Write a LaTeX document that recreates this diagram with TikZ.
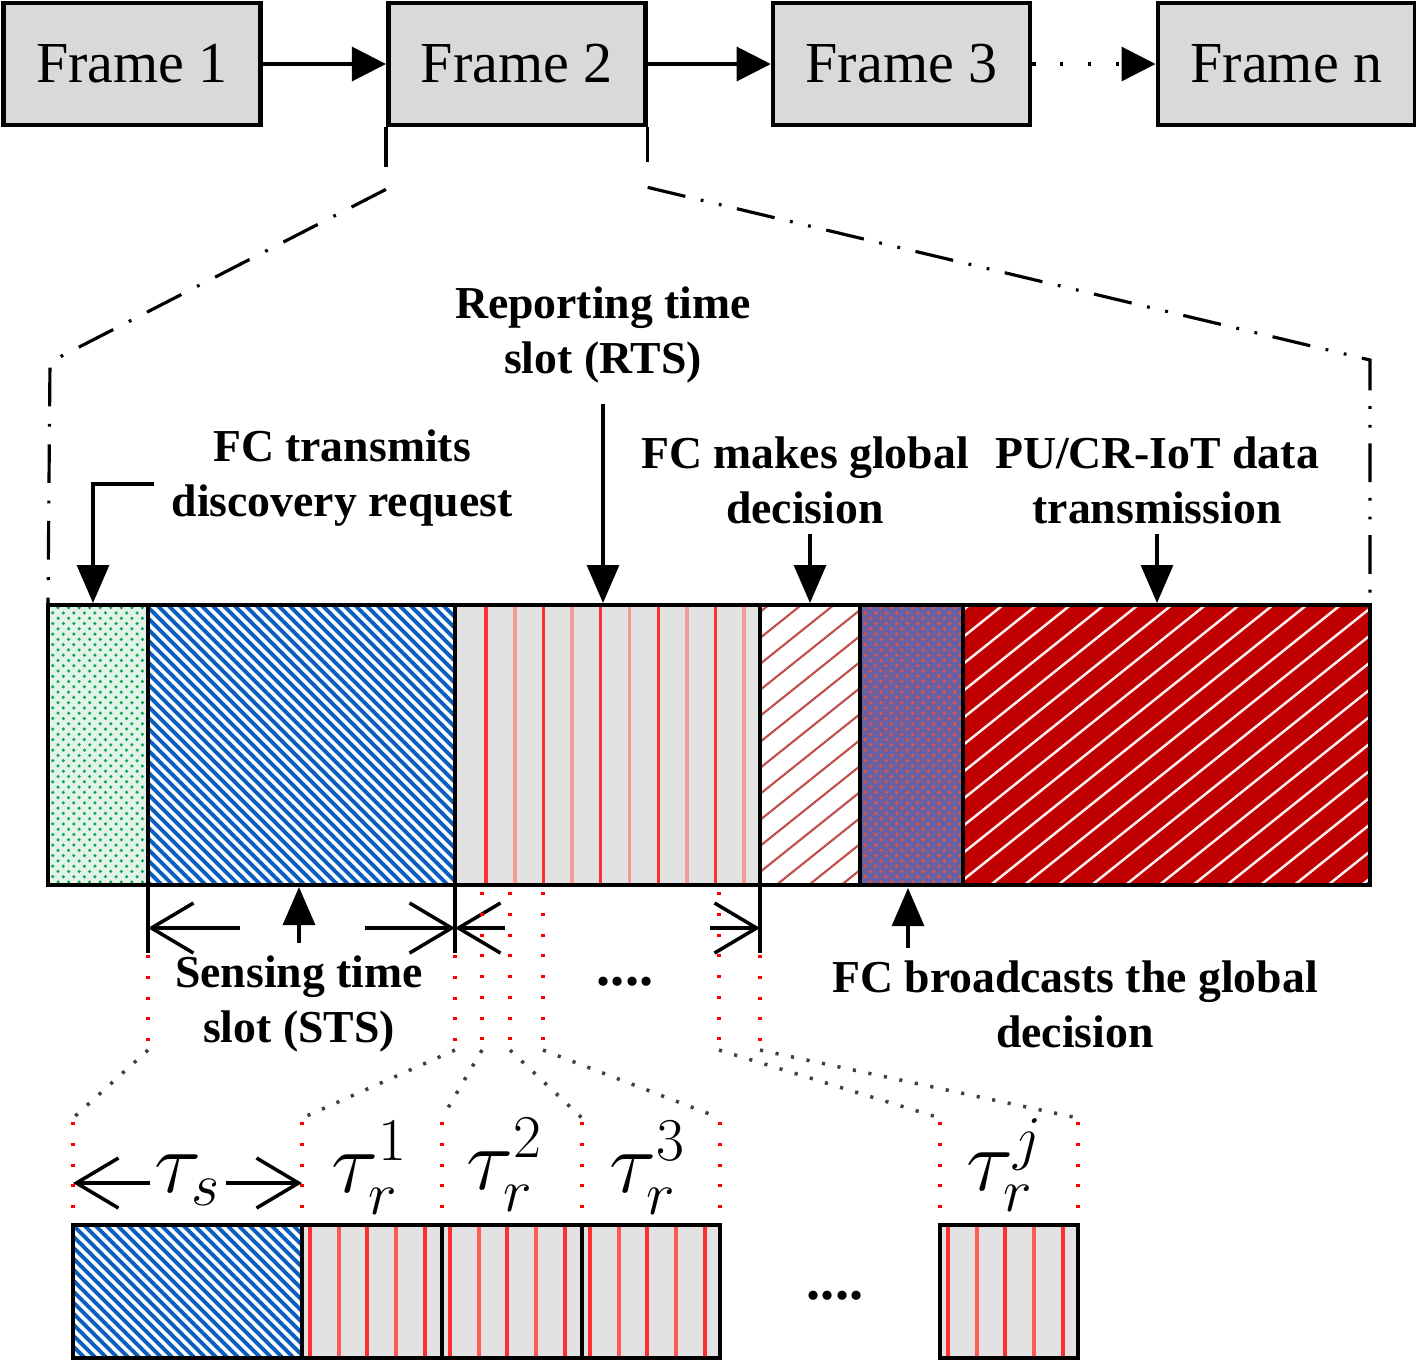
\documentclass[tikz,border=0pt]{standalone}
\usepackage{fontspec}
\setmainfont{Liberation Serif}
\usetikzlibrary{arrows.meta,patterns,positioning}

\definecolor{framegray}{HTML}{D9D9D9}
\definecolor{slotgray}{HTML}{E2E2E2}
\definecolor{hatchblue}{HTML}{0A5FC0}
\definecolor{stripered}{HTML}{FF3030}
\definecolor{stripepink}{HTML}{F79A9A}
\definecolor{brickred}{HTML}{C0504D}
\definecolor{darkred}{HTML}{C00000}
\definecolor{gridblue}{HTML}{6A5FA0}
\definecolor{gridred}{HTML}{E8553F}
\definecolor{dotgreen}{HTML}{12A650}

\tikzset{
  framebox/.style={draw, line width=1.3pt, fill=framegray, minimum width=2.57cm,
    minimum height=1.22cm, font=\fontsize{16.5}{18}\selectfont},
  lbl/.style={font=\fontsize{13}{15.6}\selectfont\bfseries, align=center, inner sep=0pt},
  flow/.style={-{Triangle[length=0.34cm,width=0.34cm]}, line width=0.9pt},
  dotflow/.style={flow, dash pattern=on 0.9pt off 7pt},
  callout/.style={-{Triangle[length=0.38cm,width=0.32cm]}, line width=0.9pt},
  dim/.style={-{Straight Barb[length=0.42cm,width=0.5cm]}, line width=1pt},
  tickline/.style={line width=1pt},
  barline/.style={line width=1.2pt},
  dashdot/.style={line width=0.9pt, dash pattern=on 11pt off 5pt on 0.8pt off 5pt},
  dashdotdot/.style={line width=0.9pt, dash pattern=on 11pt off 4.5pt on 0.8pt off 4.5pt on 0.8pt off 4.5pt},
  guide/.style={red, line width=1pt, dash pattern=on 0.9pt off 5pt},
  linkdots/.style={black!75, line width=1pt, dash pattern=on 0.9pt off 3.6pt},
  tau/.style={font=\fontsize{23}{23}\selectfont, inner sep=1pt}
}

\begin{document}
\begin{tikzpicture}[x=0.01cm,y=-0.01cm]
\useasboundingbox (0,0) rectangle (1416,1362);

% frames
\node[framebox] (f1) at (132,64) {Frame 1};
\node[framebox, right=1.23cm of f1] (f2) {Frame 2};
\node[framebox, right=1.23cm of f2] (f3) {Frame 3};
\node[framebox, right=1.23cm of f3] (fn) {Frame n};
\draw[flow] (f1) -- (f2);
\draw[flow] (f2) -- (f3);
\draw[dotflow] (f3) -- (fn);

% zoom into frame 2
\draw[tickline] (f2.south west) -- ++(0,40);
\draw[tickline] (f2.south east) -- ++(0,35);
\draw[dashdot] ([yshift=-0.62cm]f2.south west) -- (50,362) -- (48,603);
\draw[dashdotdot] ([yshift=-0.6cm]f2.south east) -- (1370,360) -- (1370,603);

\coordinate (bartop) at (0,603);
\coordinate (barbot) at (0,887);

% frame slots
\fill[white] (48,605) rectangle (1370,885);
\fill[dotgreen!12] (48,605) rectangle (148,885);
\fill[pattern=crosshatch dots, pattern color=dotgreen] (48,605) rectangle (148,885);
\begin{scope}
  \clip (148,605) rectangle (455,885);
  \foreach \x in {-140,-129,...,460}
    \draw[hatchblue, line width=1.1pt] (\x,605) -- ++(290,290);
\end{scope}
\fill[slotgray] (455,605) rectangle (760,885);
\foreach \x in {486,543.4,600.8,658.2,715.6}
  \draw[stripered, line width=0.9pt] (\x,605) -- (\x,885);
\foreach \x in {514.7,572.1,629.5,686.9,744.3}
  \draw[stripepink, line width=1.1pt] (\x,605) -- (\x,885);
\begin{scope}
  \clip (760,605) rectangle (860,885);
  \foreach \y in {612,638,...,980}
    \draw[brickred, line width=0.6pt] (760,\y) -- ++(130,-104);
\end{scope}
\fill[gridblue] (860,605) rectangle (963,885);
\fill[pattern=crosshatch dots, pattern color=gridred] (860,605) rectangle (963,885);
\fill[darkred] (963,605) rectangle (1370,885);
\begin{scope}
  \clip (963,605) rectangle (1370,885);
  \foreach \y in {610,637,...,1230}
    \draw[white!80!pink, line width=0.7pt] (963,\y) -- ++(420,-336);
\end{scope}
\draw[barline] (48,605) rectangle (1370,885);
\foreach \x in {148,455,760,860,963}
  \draw[barline] (\x,605) -- (\x,885);

% labels above
\node[lbl] (disc) at (342,478) {FC transmits\\discovery request};
\node[lbl] (rts) at (603,335) {Reporting time\\slot (RTS)};
\node[lbl] (decis) at (805,480) {FC makes global\\decision};
\node[lbl] (pu) at (1157,480) {PU/CR-IoT data\\transmission};
\coordinate (discKnee) at (93,484);
\draw[callout] ([xshift=-0.17cm]disc.west |- discKnee) -- (discKnee) -- (discKnee |- bartop);
\draw[callout, shorten <=0.2cm] (rts.south) -- (rts.south |- bartop);
\draw[callout, shorten <=0.1cm] ([xshift=0.05cm]decis.south) -- ([xshift=0.05cm]decis.south |- bartop);
\draw[callout, shorten <=0.1cm] (pu.south) -- (pu.south |- bartop);

% labels below
\node[lbl] (sts) at (299,1004) {Sensing time\\slot (STS)};
\node[lbl] (bcast) at (1075,1004) {FC broadcasts the global\\decision};
\coordinate (bcastTip) at (908,888);
\draw[callout, shorten <=0.12cm] (sts.north) -- (sts.north |- barbot);
\draw[callout, shorten <=0.12cm] (bcastTip |- bcast.north) -- (bcastTip);

% slot lengths
\coordinate (stsL) at (148,928);
\coordinate (stsR) at (455,928);
\coordinate (rtsR) at (760,928);
\foreach \c in {stsL,stsR,rtsR}
  \draw[tickline] (\c |- barbot) -- ([yshift=-0.25cm]\c);
\draw[dim] ([xshift=0.92cm]stsL) -- (stsL);
\draw[dim] ([xshift=-0.9cm]stsR) -- (stsR);
\draw[dim] ([xshift=0.5cm]stsR) -- (stsR);
\draw[dim] ([xshift=-0.5cm]rtsR) -- (rtsR);
\node[font=\fontsize{16}{16}\selectfont\bfseries] (gap1) at (625,982) {....};

% guides down to the slot detail
\foreach \a/\t in {148/955,455/955,482/892,510/892,543/892,719/892,760/955}
  \draw[guide] (\a,\t) -- (\a,1045);
\foreach \a/\b in {148/73,455/302,482/442,510/582,543/720,719/940,760/1078}
  \draw[linkdots] (\a,1050) -- (\b,1118);
\foreach \b in {73,302,442,582,720,940,1078}
  \draw[guide] (\b,1122) -- (\b,1222);

% slot detail
\begin{scope}
  \clip (73,1225) rectangle (302,1358);
  \foreach \x in {-70,-59,...,310}
    \draw[hatchblue, line width=1.1pt] (\x,1225) -- ++(140,140);
\end{scope}
\foreach \b in {302,442,582,940} {
  \fill[slotgray] (\b,1225) rectangle ++(138,133);
  \foreach \d in {8,65,123}
    \draw[stripered, line width=0.9pt] (\b+\d,1225) -- (\b+\d,1358);
  \foreach \d in {37,94}
    \draw[stripered!80!white, line width=0.9pt] (\b+\d,1225) -- (\b+\d,1358);
}
\draw[barline] (73,1225) rectangle (720,1358);
\foreach \x in {302,442,582}
  \draw[barline] (\x,1225) -- (\x,1358);
\draw[barline] (940,1225) rectangle (1078,1358);
\node[font=\fontsize{16}{16}\selectfont\bfseries] (gap2) at (835,1296) {....};

% slot durations
\node[tau] (taus) at (188,1180) {\(\tau_s\)};
\coordinate (tausL) at (73,1183);
\coordinate (tausR) at (302,1183);
\draw[dim] (taus.west |- tausL) -- (tausL);
\draw[dim] (taus.east |- tausR) -- (tausR);
\node[tau] (tau1) at (370,1168) {\(\tau_r^1\)};
\node[tau] (tau2) at (505,1165) {\(\tau_r^2\)};
\node[tau] (tau3) at (648,1168) {\(\tau_r^3\)};
\node[tau] (tauj) at (1005,1165) {\(\tau_r^j\)};
\end{tikzpicture}
\end{document}
